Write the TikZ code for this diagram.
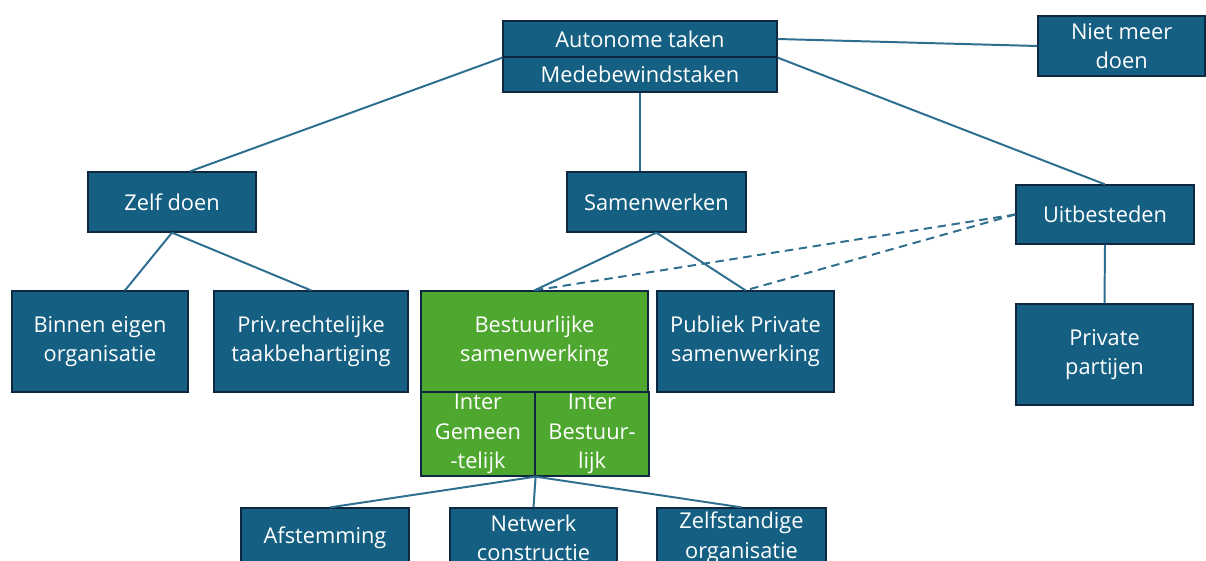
\documentclass[tikz,border=0pt]{standalone}
\usepackage{fontspec}
\setmainfont{Open Sans}
\definecolor{tealbox}{RGB}{21,96,130}
\definecolor{tealline}{RGB}{46,110,142}
\definecolor{darkrim}{RGB}{14,40,65}
\definecolor{greenbox}{RGB}{78,167,46}
\tikzset{
  blok/.style={draw=darkrim, line width=0.9pt, fill=tealbox, text=white, align=center,
    inner sep=1pt, font=\fontsize{15.5}{21}\selectfont},
  groenblok/.style={blok, fill=greenbox},
  lijn/.style={draw=tealline, line width=1.4pt},
  streep/.style={lijn, dash pattern=on 6pt off 4pt},
}
\begin{document}
\begin{tikzpicture}
  \clip (0,0) rectangle (30.15,-14.025);
  \fill[white] (0,0) rectangle (30.15,-14.025);
  % top
  \node[blok, minimum width=6.85cm, minimum height=0.9cm] (autonoom) at (16.0,-0.975) {Autonome taken};
  \node[blok, minimum width=6.85cm, minimum height=0.875cm] (mede) at (16.0,-1.8625) {Medebewindstaken};
  \node[blok, minimum width=4.175cm, minimum height=1.5cm] (niet) at (28.04,-1.15) {Niet meer\\doen};
  % second row
  \node[blok, minimum width=4.2cm, minimum height=1.5cm] (zelf) at (4.3,-5.05) {Zelf doen};
  \node[blok, minimum width=4.475cm, minimum height=1.5cm] (samen) at (16.41,-5.05) {Samenwerken};
  \node[blok, minimum width=4.45cm, minimum height=1.475cm] (uit) at (27.625,-5.3625) {Uitbesteden};
  % third row
  \node[blok, minimum width=4.4cm, minimum height=2.525cm] (binnen) at (2.5,-8.5375) {Binnen eigen\\organisatie};
  \node[blok, minimum width=4.85cm, minimum height=2.525cm] (priv) at (7.775,-8.5375) {Priv.rechtelijke\\taakbehartiging};
  \node[groenblok, minimum width=5.675cm, minimum height=2.525cm] (bestuur) at (13.3625,-8.5375) {Bestuurlijke\\samenwerking};
  \node[blok, minimum width=4.425cm, minimum height=2.525cm] (publiek) at (18.6375,-8.5375) {Publiek Private\\samenwerking};
  \node[blok, minimum width=4.425cm, minimum height=2.525cm] (private) at (27.6125,-8.8625) {Private\\partijen};
  \node[groenblok, minimum width=2.85cm, minimum height=2.1cm] (gemeen) at (11.95,-10.85) {Inter\\Gemeen\\-telijk};
  \node[groenblok, minimum width=2.85cm, minimum height=2.1cm] (bestuurlijk) at (14.8,-10.85) {Inter\\Bestuur-\\lijk};
  % bottom row
  \node[blok, minimum width=4.2cm, minimum height=1.5cm] (afst) at (8.125,-13.45) {Afstemming};
  \node[blok, minimum width=4.175cm, minimum height=1.5cm] (netwerk) at (13.3375,-13.45) {Netwerk\\constructie};
  \node[blok, minimum width=4.225cm, minimum height=1.5cm] (zelfst) at (18.5375,-13.45) {Zelfstandige\\organisatie};
  % lines
  \draw[lijn] (autonoom.south west) -- ([xshift=0.45cm]zelf.north);
  \draw[lijn] (mede.south) -- (mede.south |- samen.north);
  \draw[lijn] (autonoom.south east) -- (uit.north);
  \draw[lijn] (autonoom.east) -- (niet.west);
  \draw[lijn] (zelf.south) -- ([xshift=0.625cm]binnen.north);
  \draw[lijn] (zelf.south) -- (priv.north);
  \draw[lijn] (samen.south) -- (bestuur.north);
  \draw[lijn] (samen.south) -- (publiek.north);
  \draw[streep] (uit.west) -- (bestuur.north);
  \draw[streep] (uit.west) -- (publiek.north);
  \draw[lijn] (uit.south) -- (private.north);
  \draw[lijn] (gemeen.south east) -- ([xshift=0.125cm]afst.north);
  \draw[lijn] (gemeen.south east) -- (netwerk.north);
  \draw[lijn] (gemeen.south east) -- (zelfst.north);
\end{tikzpicture}
\end{document}
